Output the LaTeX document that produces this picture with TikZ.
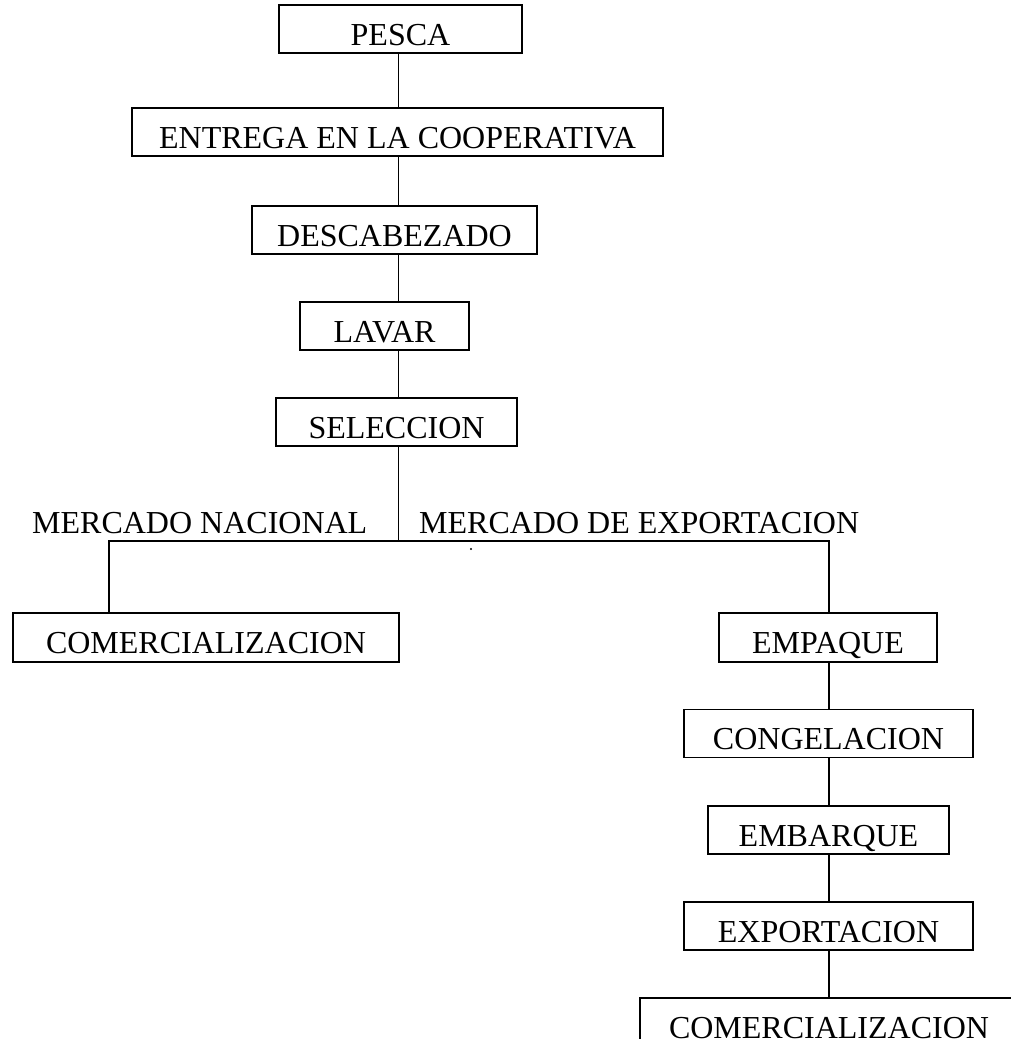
\documentclass[tikz,border=0pt]{standalone}
\usepackage{fontspec}
\setmainfont{Liberation Serif}
\usepackage{tikz}
\usetikzlibrary{positioning,calc}

\begin{document}
\begin{tikzpicture}[x=1pt,y=-1pt]
                \tikzstyle{every node}+=[inner sep=0pt,font=\fontsize{32}{38}\selectfont]
                \tikzstyle{caja}=[draw,line width=1.8pt,minimum height=48pt,text height=32pt,text depth=0pt]
                \tikzstyle{linea}=[line width=1.8pt]
                \useasboundingbox (0,0) rectangle (1010,1042);
                \coordinate (eje) at (398.5,0);
                \coordinate (ramal) at (398.5,541);
                \coordinate (nac) at (109,541);
                \coordinate (exp) at (829,541);
                \node [caja,minimum width=243pt] (pesca) at (400.5,29) {PESCA};
                \node [caja,minimum width=531pt] (entrega) at (397.5,132) {ENTREGA EN LA COOPERATIVA};
                \node [caja,minimum width=285pt] (descabezado) at (394.5,230) {DESCABEZADO};
                \node [caja,minimum width=169pt] (lavar) at (384.5,326) {LAVAR};
                \node [caja,minimum width=241pt] (seleccion) at (396.5,422) {SELECCION};
                \node [anchor=base west] (mnacional) at (32,533) {MERCADO NACIONAL};
                \node [anchor=base west] (mexportacion) at (419,533) {MERCADO DE EXPORTACION};
                \node [caja,minimum width=386pt,minimum height=49pt] (comercial) at (206,637.5) {COMERCIALIZACION};
                \node [caja,minimum width=218pt,minimum height=49pt] (empaque) at (828,637.5) {EMPAQUE};
                \node [caja,minimum width=289pt] (congelacion) at (828.5,733.5) {CONGELACION};
                \node [caja,minimum width=241pt] (embarque) at (828.5,830) {EMBARQUE};
                \node [caja,minimum width=289pt] (exportacion) at (828.5,926) {EXPORTACION};
                \node [anchor=base] (comercialexp) at (829,1038) {COMERCIALIZACION};
                \coordinate (esquina) at (640,998);
                \draw [linea] (pesca.south -| eje) -- (entrega.north -| eje);
                \draw [linea] (entrega.south -| eje) -- (descabezado.north -| eje);
                \draw [linea] (descabezado.south -| eje) -- (lavar.north -| eje);
                \draw [linea] (lavar.south -| eje) -- (seleccion.north -| eje);
                \draw [linea] (seleccion.south -| eje) -- (ramal);
                \draw [linea] (comercial.north -| nac) -- (nac) -- (exp) -- (empaque.north -| exp);
                \fill (471,549) circle (1.2);
                \draw [linea] (empaque.south -| exp) -- (congelacion.north -| exp);
                \draw [linea] (congelacion.south -| exp) -- (embarque.north -| exp);
                \draw [linea] (embarque.south -| exp) -- (exportacion.north -| exp);
                \draw [linea] (exportacion.south -| exp) -- (esquina -| exp);
                \draw [linea] (esquina |- comercialexp.south) -- (esquina) -- (1012,998);
\end{tikzpicture}
\end{document}
